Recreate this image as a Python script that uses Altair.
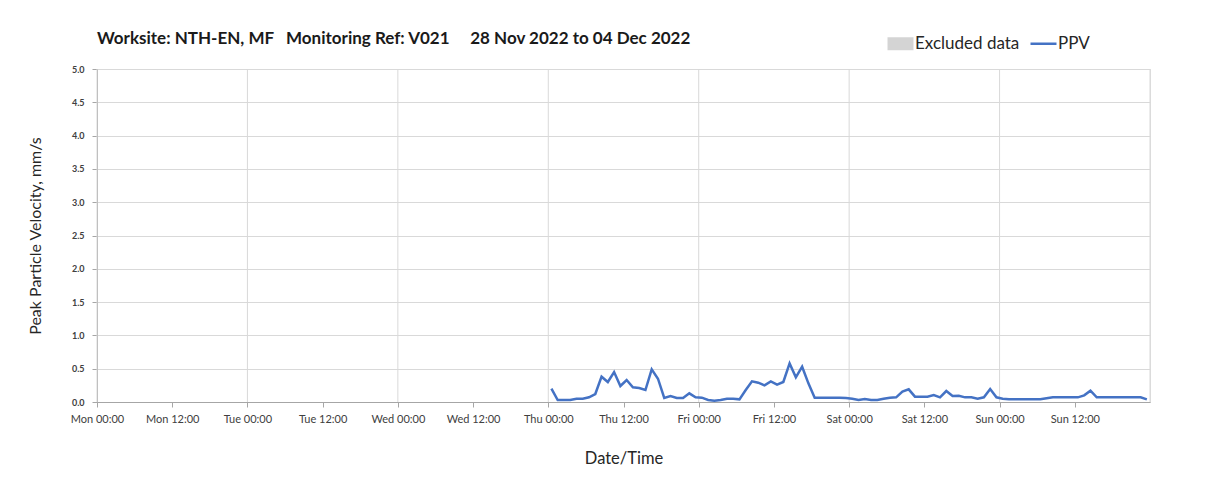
import altair as alt
import pandas as pd

# PPV readings (mm/s), hourly at hh:30, Thu 01 Dec 2022 00:30 -> Sun 04 Dec 2022 23:30
ppv_thu = [0.20, 0.03, 0.03, 0.03, 0.05, 0.05, 0.07, 0.12, 0.38, 0.30, 0.45, 0.24,
           0.33, 0.22, 0.21, 0.18, 0.49, 0.35, 0.06, 0.09, 0.06, 0.06, 0.13, 0.07]
ppv_fri = [0.065, 0.03, 0.02, 0.03, 0.05, 0.05, 0.04, 0.18, 0.31, 0.29, 0.25, 0.31,
           0.26, 0.30, 0.58, 0.37, 0.53, 0.28, 0.065, 0.065, 0.065, 0.065, 0.065, 0.06]
ppv_sat = [0.05, 0.03, 0.045, 0.03, 0.03, 0.05, 0.065, 0.07, 0.155, 0.19, 0.08, 0.08,
           0.08, 0.105, 0.07, 0.165, 0.09, 0.095, 0.07, 0.07, 0.05, 0.07, 0.195, 0.07]
ppv_sun = [0.05, 0.04, 0.04, 0.04, 0.04, 0.04, 0.04, 0.055, 0.07, 0.07, 0.07, 0.07,
           0.07, 0.10, 0.17, 0.07, 0.07, 0.07, 0.07, 0.07, 0.07, 0.07, 0.07, 0.04]
ppv_values = ppv_thu + ppv_fri + ppv_sat + ppv_sun
times = pd.date_range("2022-12-01 00:30", periods=len(ppv_values), freq="h")

day_starts = ["2022-11-28T00:00:00", "2022-11-29T00:00:00", "2022-11-30T00:00:00",
              "2022-12-01T00:00:00", "2022-12-02T00:00:00", "2022-12-03T00:00:00",
              "2022-12-04T00:00:00", "2022-12-05T00:00:00"]
y_ticks = [0.0, 0.5, 1.0, 1.5, 2.0, 2.5, 3.0, 3.5, 4.0, 4.5, 5.0]
legend_items = ["Excluded data", "PPV"]
legend_colors = ["#d4d4d4", "#4472c4"]

# 12-hourly tick positions Mon 00:00 .. Sun 12:00
tick_dates = [(11, 28), (11, 29), (11, 30), (12, 1), (12, 2), (12, 3), (12, 4)]
x_ticks = []
for m, d in tick_dates:
    x_ticks.append(alt.DateTime(year=2022, month=m, date=d, hours=0))
    x_ticks.append(alt.DateTime(year=2022, month=m, date=d, hours=12))

df = pd.DataFrame({"time": times, "ppv": ppv_values, "series": "PPV"})
grid_df = pd.DataFrame({"time": pd.to_datetime(day_starts)})

FONT = "Lato"
x_scale = alt.Scale(domain=[alt.DateTime(year=2022, month=11, date=28, hours=0),
                            alt.DateTime(year=2022, month=12, date=5, hours=0)])

grid = alt.Chart(grid_df).mark_rule(color="#d9d9d9", strokeWidth=1).encode(
    x=alt.X("time:T", scale=x_scale)
)

line = alt.Chart(df).mark_line(strokeWidth=2.5, interpolate="linear").encode(
    x=alt.X("time:T", scale=x_scale,
            axis=alt.Axis(values=x_ticks, format="%a %H:%M", title="Date/Time",
                          grid=False, labelFontSize=11, labelColor="#404040",
                          labelFont=FONT, tickSize=5, tickColor="#a6a6a6",
                          domainColor="#a6a6a6", labelPadding=6,
                          titleFont=FONT, titleFontSize=16.5, titleFontWeight="normal",
                          titleColor="#262626", titlePadding=26, labelFlush=False)),
    y=alt.Y("ppv:Q", scale=alt.Scale(domain=[0, 5], nice=False),
            axis=alt.Axis(values=y_ticks, format=".1f",
                          title="Peak Particle Velocity, mm/s",
                          labelFontSize=9, labelColor="#404040", labelFont=FONT,
                          labelFontWeight="bold",
                          tickSize=5, tickColor="#a6a6a6", domainColor="#a6a6a6",
                          gridColor="#d9d9d9", labelPadding=8,
                          titleFont=FONT, titleFontSize=16, titleFontWeight="normal",
                          titleColor="#262626", titlePadding=28)),
    color=alt.Color("series:N",
                    scale=alt.Scale(domain=legend_items, range=legend_colors),
                    legend=alt.Legend(
                        orient="none", legendX=795, legendY=-34,
                        direction="horizontal", title=None,
                        labelFont=FONT, labelFontSize=17, labelColor="#262626",
                        symbolType=alt.expr("datum.value === 'PPV' ? 'M-1,0H1' : 'M-1,-0.5H1V0.5H-1Z'"),
                        symbolSize=676,
                        symbolFillColor=alt.expr("datum.value === 'PPV' ? 'transparent' : '#d4d4d4'"),
                        symbolStrokeWidth=alt.expr("datum.value === 'PPV' ? 2.5 : 0"),
                        labelOffset=6, columnPadding=5, symbolOpacity=1)),
)

title_text = ("Worksite: NTH-EN, MF\u00a0\u00a0\u00a0Monitoring Ref: V021"
              "\u00a0\u00a0\u00a0\u00a0\u00a028 Nov 2022 to 04 Dec 2022")

chart = alt.layer(grid, line).properties(
    width=1053, height=333,
    title=alt.TitleParams(title_text, anchor="start", frame="group", font=FONT,
                          fontSize=17, fontWeight="bold", color="#1a1a1a",
                          offset=20, dy=46, baseline="alphabetic"),
    autosize=alt.AutoSizeParams(type="none"),
    padding={"left": 89, "top": 61, "right": 50, "bottom": 85},
).configure_view(stroke="#bfbfbf", strokeWidth=1).configure(background="white")

chart.save("out.html", embed_options={"renderer": "svg", "actions": False})
